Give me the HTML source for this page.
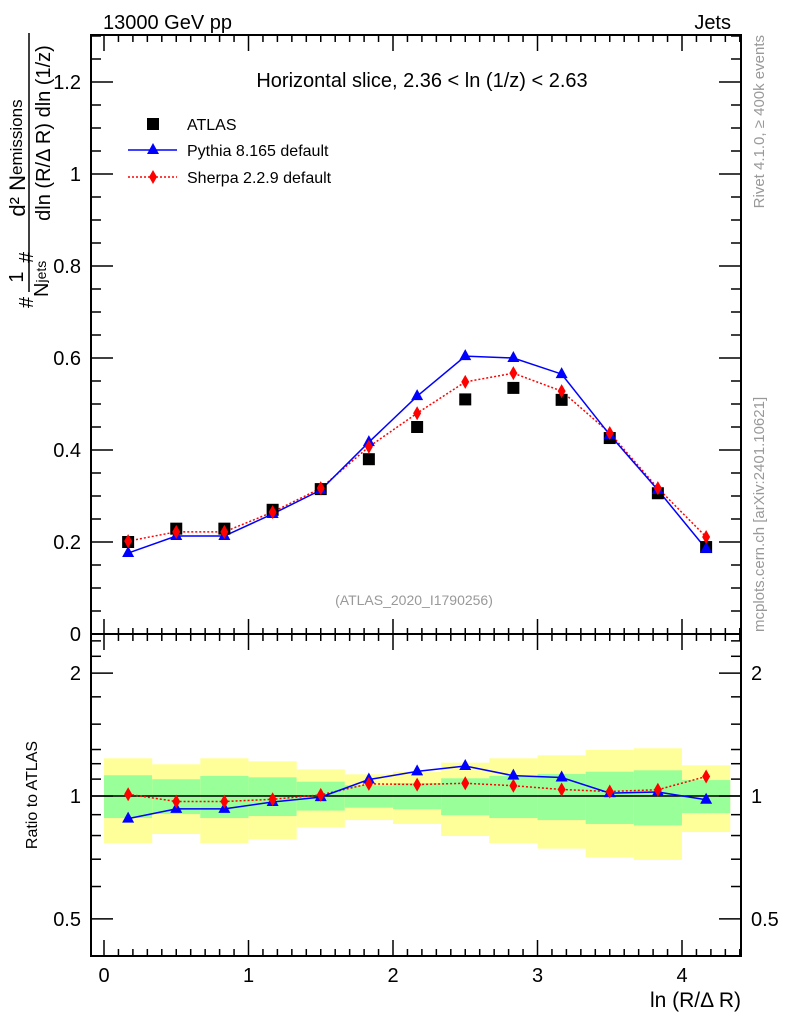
<!DOCTYPE html>
<html><head><meta charset="utf-8"><style>
html,body{margin:0;padding:0;background:#fff;}
svg{display:block;font-family:"Liberation Sans",sans-serif;}
</style></head><body>
<svg id="chart" width="786" height="1024" viewBox="0 0 786 1024" xmlns="http://www.w3.org/2000/svg">
<g id="bands"></g>
<g id="ticks"></g>
<g id="marks"></g>
<rect x="91" y="35" width="650" height="599" fill="none" stroke="#000" stroke-width="2"/>
<rect x="91" y="634" width="650" height="322" fill="none" stroke="#000" stroke-width="2"/>
<text x="103" y="29" font-size="20">13000 GeV pp</text>
<text x="731" y="29" font-size="20" text-anchor="end">Jets</text>
<text x="422" y="87" font-size="20" text-anchor="middle">Horizontal slice, 2.36 &lt; ln (1/z) &lt; 2.63</text>
<text x="414" y="605" font-size="14" fill="#999" text-anchor="middle">(ATLAS_2020_I1790256)</text>
<text transform="translate(764,35) rotate(-90)" font-size="15" fill="#999" text-anchor="end">Rivet 4.1.0, ≥ 400k events</text>
<text transform="translate(764,632) rotate(-90)" font-size="15" fill="#999">mcplots.cern.ch [arXiv:2401.10621]</text>
<text x="741" y="1007" font-size="21" text-anchor="end">ln (R/Δ R)</text>
<text transform="translate(37,795) rotate(-90)" font-size="16" text-anchor="middle">Ratio to ATLAS</text>
<g font-size="20">
 <line x1="29" y1="33" x2="29" y2="292" stroke="#000" stroke-width="1.5"/>
 <text transform="translate(25,158) rotate(-90)" text-anchor="middle" font-size="22">d² N<tspan font-size="17" dy="-3">emissions</tspan></text>
 <text transform="translate(50,133) rotate(-90)" text-anchor="middle">dln (R/Δ R) dln (1/z)</text>
 <text transform="translate(23,277) rotate(-90)" text-anchor="middle">1</text>
 <text transform="translate(48,297) rotate(-90)" text-anchor="start">N<tspan font-size="14" dy="-2">jets</tspan></text>
 <text transform="translate(33,308) rotate(-90)" text-anchor="start">#</text>
 <text transform="translate(33,263) rotate(-90)" text-anchor="start">#</text>
</g>
<g>
 <rect x="147" y="118" width="12" height="12" fill="#000"/>
 <text x="187" y="130" font-size="16">ATLAS</text>
 <line x1="128" y1="150" x2="177" y2="150" stroke="#00f" stroke-width="1.5"/>
 <polygon points="153,143 159,154 147,154" fill="#00f"/>
 <text x="187" y="156" font-size="16">Pythia 8.165 default</text>
 <line x1="128" y1="177" x2="177" y2="177" stroke="#f00" stroke-width="1.5" stroke-dasharray="2,2"/>
 <polygon points="153,170 157,177 153,184 149,177" fill="#f00"/>
 <text x="187" y="183" font-size="16">Sherpa 2.2.9 default</text>
</g>
<script>
const xCenters=[0.167,0.5,0.833,1.167,1.5,1.833,2.167,2.5,2.833,3.167,3.5,3.833,4.167];
const atlasVals=[0.200,0.229,0.229,0.270,0.315,0.380,0.450,0.510,0.535,0.509,0.426,0.306,0.189];
const pythiaVals=[0.176,0.213,0.213,0.261,0.313,0.417,0.517,0.604,0.600,0.565,0.433,0.313,0.185];
const sherpaVals=[0.202,0.222,0.222,0.265,0.317,0.407,0.480,0.548,0.567,0.528,0.437,0.317,0.211];
const yellowUp=[1.237,1.196,1.237,1.216,1.162,1.130,1.147,1.207,1.237,1.258,1.297,1.309,1.189];
const yellowDn=[0.767,0.807,0.767,0.783,0.838,0.873,0.854,0.798,0.767,0.743,0.707,0.697,0.816];
const greenUp=[1.124,1.099,1.120,1.111,1.084,1.062,1.076,1.105,1.120,1.132,1.147,1.156,1.094];
const greenDn=[0.883,0.903,0.883,0.893,0.921,0.936,0.928,0.897,0.883,0.873,0.854,0.847,0.908];
const binWidth=1/3;
const xTicks=[0,1,2,3,4];
const yTicks=[0,0.2,0.4,0.6,0.8,1,1.2];
const rTicks=[0.5,1,2];

const NS="http://www.w3.org/2000/svg";
const X=v=>104+v*144.5;
const Y=v=>634-v*460;
const R=v=>796-Math.log10(v)*408;
function mk(tag,attrs,parent){const e=document.createElementNS(NS,tag);for(const k in attrs)e.setAttribute(k,attrs[k]);parent.appendChild(e);return e;}
const bands=document.getElementById('bands'),ticks=document.getElementById('ticks'),marks=document.getElementById('marks');

xCenters.forEach((c,i)=>{
 const x0=X(c-binWidth/2),w=X(c+binWidth/2)-x0;
 const yb=mk('rect',{x:x0,y:R(yellowUp[i]),width:w,height:R(yellowDn[i])-R(yellowUp[i]),fill:'#ffff99'},bands);
 
 
 const gb=mk('rect',{x:x0,y:R(greenUp[i]),width:w,height:R(greenDn[i])-R(greenUp[i]),fill:'#99ff99'},bands);
 
 
});
const one=mk('line',{x1:91,x2:741,y1:R(1),y2:R(1),stroke:'#000','stroke-width':1.5},bands);



function tl(x1,y1,x2,y2){mk('line',{x1,y1,x2,y2,stroke:'#000','stroke-width':1.5},ticks);}
for(let k=0;k<=44;k++){const v=k/10,x=X(v);if(x>740)break;const major=k%10===0,len=major?15:6;
 tl(x,634,x,634-len);tl(x,36,x,36+len);tl(x,955,x,955-len);tl(x,635,x,635+len);}
xTicks.forEach(v=>{const t=mk('text',{x:X(v),y:982,'font-size':20,'text-anchor':'middle'},ticks);t.textContent=v;
 
 });
for(let k=0;k<=26;k++){const v=k*0.05,y=Y(v);if(y<36)break;const major=k%4===0,len=major?22:10;
 tl(91,y,91+len,y);tl(741,y,741-len,y);}
yTicks.forEach(v=>{const t=mk('text',{x:81,y:Y(v)+7,'font-size':20,'text-anchor':'end'},ticks);t.textContent=v;
 
 });
[0.5,0.6,0.7,0.8,0.9,1,1.1,1.2,1.3,1.5,1.75,2,2.2,2.4].forEach(v=>{const y=R(v),major=rTicks.includes(v),len=major?22:10;
 tl(91,y,91+len,y);tl(741,y,741-len,y);});
rTicks.forEach(v=>{const t=mk('text',{x:81,y:R(v)+7,'font-size':20,'text-anchor':'end'},ticks);t.textContent=v;
 
 
 const t2=mk('text',{x:751,y:R(v)+7,'font-size':20},ticks);t2.textContent=v;
 
 });

function tri(x,y,c,name){const p=mk('polygon',{points:`${x},${y-7} ${x+6},${y+4} ${x-6},${y+4}`,fill:c},marks);
 
 }
function dia(x,y,c,name){const p=mk('polygon',{points:`${x},${y-7} ${x+4},${y} ${x},${y+7} ${x-4},${y}`,fill:c},marks);
 
 }
function line(xs,ys,c,dash,name){const l=mk('polyline',{points:xs.map((x,i)=>x+','+ys[i]).join(' '),fill:'none',stroke:c,'stroke-width':1.5},marks);
 if(dash)l.setAttribute('stroke-dasharray','2,2');
 
 }
const xs=xCenters.map(X);
line(xs,sherpaVals.map(Y),'#f00',true,'sherpa-line');
line(xs,pythiaVals.map(Y),'#00f',false,'pythia-line');
xCenters.forEach((c,i)=>{const s=mk('rect',{x:X(c)-6,y:Y(atlasVals[i])-6,width:12,height:12,fill:'#000'},marks);
 
 });
xCenters.forEach((c,i)=>{tri(X(c),Y(pythiaVals[i]),'#00f','pythia-point');dia(X(c),Y(sherpaVals[i]),'#f00','sherpa-point');});
const pr=pythiaVals.map((v,i)=>R(v/atlasVals[i])),sr=sherpaVals.map((v,i)=>R(v/atlasVals[i]));
line(xs,sr,'#f00',true,'sherpa-ratio-line');
line(xs,pr,'#00f',false,'pythia-ratio-line');
xCenters.forEach((c,i)=>{tri(X(c),pr[i],'#00f','pythia-ratio-point');dia(X(c),sr[i],'#f00','sherpa-ratio-point');});
</script>
</svg>
</body></html>
